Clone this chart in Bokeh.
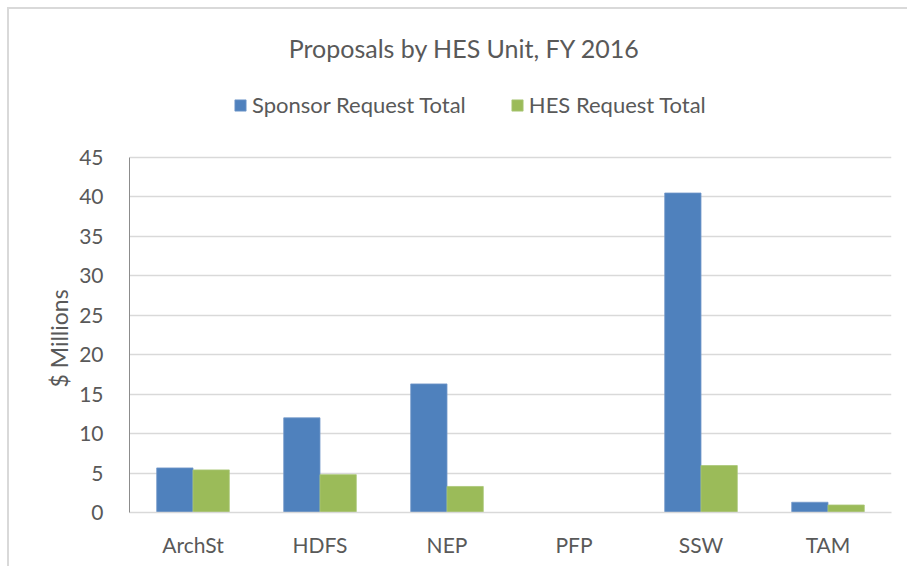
from bokeh.plotting import figure
from bokeh.models import (ColumnDataSource, FactorRange, Legend, LegendItem,
                          Label, Title, Range1d, FixedTicker)
from bokeh.transform import dodge
from bokeh.embed import file_html
from bokeh.resources import INLINE

# ---- data ----
units = ["ArchSt", "HDFS", "NEP", "PFP", "SSW", "TAM"]
sponsor_total = [5.65, 12.0, 16.3, 0.0, 40.5, 1.3]
hes_total = [5.4, 4.8, 3.3, 0.0, 5.95, 0.95]
y_ticks = [0, 5, 10, 15, 20, 25, 30, 35, 40, 45]
title_text = "Proposals by HES Unit, FY 2016"
series_names = ["Sponsor Request Total", "HES Request Total"]
y_label = "$ Millions"

FONT = "Lato"
TXT = "#595959"
BLUE = "#4f81bd"
GREEN = "#9bbb59"

# layout geometry (pixels)
FIG_W, FIG_H = 900, 559
B_LEFT, B_RIGHT, B_BOTTOM = 120, 18, 56
PLOT_PX = 355          # pixel height of the 0..45 value span
frame_h = FIG_H - B_BOTTOM
y_max = y_ticks[-1]
y_top = y_max * frame_h / PLOT_PX   # frame extends up to hold title & legend

p = figure(width=FIG_W, height=FIG_H,
           x_range=FactorRange(*units, range_padding=0),
           y_range=Range1d(0, y_top),
           output_backend="svg", toolbar_location=None,
           min_border_left=B_LEFT, min_border_right=B_RIGHT,
           min_border_top=0, min_border_bottom=B_BOTTOM)
p.styles = {"margin-left": "7px", "margin-top": "7px",
            "border-left": "2px solid #d9d9d9", "border-top": "2px solid #d9d9d9"}

src = ColumnDataSource(dict(units=units, sponsor=sponsor_total, hes=hes_total))
bw = 1 / 3.5
r1 = p.vbar(x=dodge("units", -bw / 2, range=p.x_range), top="sponsor", width=bw,
            source=src, fill_color=BLUE, line_color="#7298c9", line_width=0.8)
r2 = p.vbar(x=dodge("units", bw / 2, range=p.x_range), top="hes", width=bw,
            source=src, fill_color=GREEN, line_color="#a9c676", line_width=0.8)

p.outline_line_color = None
p.xgrid.visible = False
p.ygrid.grid_line_color = "#d9d9d9"
p.ygrid.grid_line_width = 1.5
p.yaxis.ticker = FixedTicker(ticks=y_ticks)
p.yaxis.bounds = (0, y_max)

for ax in (p.xaxis, p.yaxis):
    ax.major_tick_line_color = None
    ax.minor_tick_line_color = None
    ax.major_label_text_font = FONT
    ax.major_label_text_font_size = "21px"
    ax.major_label_text_color = TXT
p.yaxis.major_label_standoff = 20
p.xaxis.major_label_standoff = 13

p.xaxis.axis_line_color = "#d9d9d9"
p.xaxis.axis_line_width = 1.5
p.yaxis.axis_line_color = "#8c8c8c"
p.yaxis.axis_line_width = 1

# y-axis title, placed along the 0..45 span
ytitle = Title(text=y_label, align="left", offset=125, standoff=7,
               text_font=FONT, text_font_size="23px", text_font_style="normal",
               text_color=TXT)
p.add_layout(ytitle, "left")

legend = Legend(items=[LegendItem(label=series_names[0], renderers=[r1]),
                       LegendItem(label=series_names[1], renderers=[r2])],
                orientation="horizontal", location=(104, 394),
                glyph_width=14, glyph_height=14, label_standoff=5, spacing=44,
                padding=0, margin=0, border_line_color=None,
                background_fill_alpha=0,
                label_text_font=FONT, label_text_font_size="22px",
                label_text_color=TXT)
p.add_layout(legend, "center")

title = Label(x=335, y=465, x_units="screen", y_units="screen", text=title_text,
              text_align="center", text_baseline="middle",
              text_font=FONT, text_font_size="25px", text_color=TXT)
p.add_layout(title)

open("out.html", "w").write(file_html(p, INLINE))
